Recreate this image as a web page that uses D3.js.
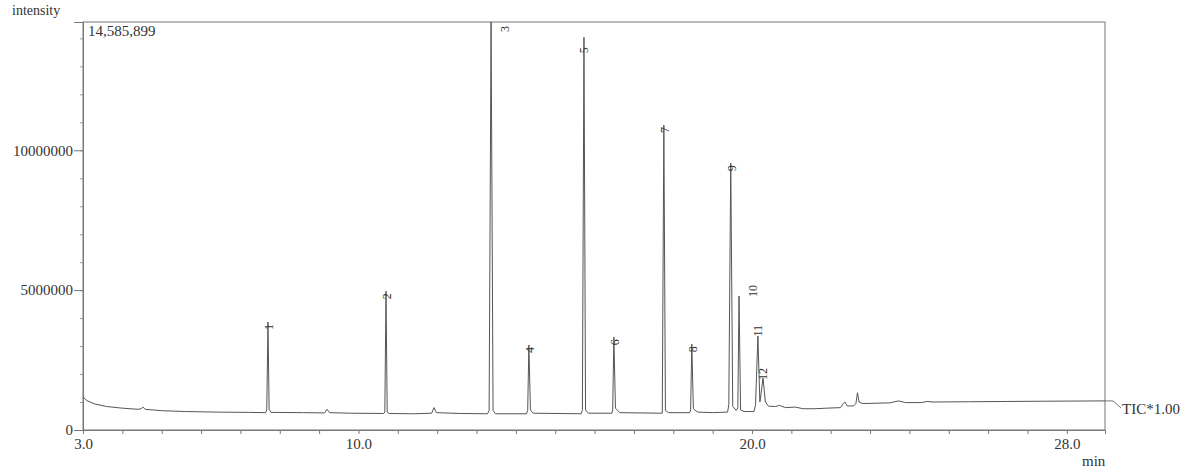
<!DOCTYPE html>
<html><head><meta charset="utf-8">
<script src="https://cdn.jsdelivr.net/npm/d3@7"></script>
<style>html,body{margin:0;padding:0;background:#fff}svg{display:block}</style>
</head><body>
<svg id="c" width="1194" height="473"></svg>
<script>
// ---- data ----
const traceTimes = [3.00,3.10,3.30,3.60,4.00,4.40,4.48,4.52,4.58,5.00,5.60,6.40,7.20,7.64,7.67,7.70,7.73,7.78,8.60,9.14,9.20,9.27,9.80,10.64,10.67,10.70,10.73,10.78,11.40,11.86,11.92,11.98,12.60,13.28,13.32,13.37,13.42,13.48,14.27,14.30,14.33,14.37,14.44,15.66,15.69,15.73,15.77,15.84,16.44,16.46,16.49,16.53,16.64,17.72,17.76,17.80,17.88,18.42,18.44,18.47,18.51,18.62,19.00,19.38,19.41,19.46,19.51,19.60,19.64,19.67,19.71,19.80,20.05,20.09,20.15,20.20,20.23,20.28,20.34,20.42,20.60,20.70,20.85,21.10,21.30,21.60,21.90,22.25,22.32,22.36,22.42,22.58,22.64,22.68,22.72,22.80,22.95,23.50,23.72,23.90,24.30,24.45,24.60,25.50,26.50,27.50,28.97];
const traceValues = [1.18,1.05,0.93,0.84,0.78,0.74,0.76,0.82,0.74,0.69,0.66,0.64,0.63,0.62,0.72,3.86,0.74,0.63,0.62,0.61,0.74,0.62,0.60,0.59,0.64,4.96,0.64,0.59,0.58,0.60,0.80,0.62,0.59,0.58,0.70,14.585899,0.70,0.58,0.58,0.70,3.04,0.72,0.60,0.58,0.72,14.04,0.72,0.60,0.60,0.72,3.32,0.78,0.62,0.60,10.90,0.70,0.62,0.62,0.72,3.07,0.76,0.64,0.62,0.64,0.90,9.54,0.85,0.70,0.80,4.79,0.72,0.66,0.66,0.90,3.36,1.00,1.30,1.86,1.00,0.85,0.84,0.88,0.80,0.82,0.76,0.76,0.78,0.80,0.95,1.00,0.86,0.86,0.95,1.33,1.00,0.95,0.95,0.97,1.04,0.98,0.98,1.02,1.00,1.01,1.02,1.03,1.04].map(v => v * 1e6);
const peakLabels = ["1","2","3","4","5","6","7","8","9","10","11","12"];
const peakTimes = [7.70,10.70,13.37,14.33,15.73,16.49,17.76,18.47,19.46,19.67,20.15,20.28];
const peakHeights = [3.86,4.96,14.585899,3.04,14.04,3.32,10.90,3.07,9.54,4.79,3.36,1.86].map(v => v * 1e6);
const xTickLabels = [3, 10, 20, 28];
const yTickLabels = [0, 5000000, 10000000];
const maxIntensity = 14585899;

// ---- layout ----
const L = 83, R = 1105, T = 22, B = 430;
const svg = d3.select("#c");
const font = "'Liberation Serif', 'DejaVu Serif', serif";
const ink = "#333";
const x = d3.scaleLinear().domain([3, 28.97]).range([L, R]);
const y = d3.scaleLinear().domain([0, maxIntensity]).range([B, T]);

svg.append("defs").append("clipPath").attr("id","clip")
  .append("rect").attr("x",L).attr("y",T).attr("width",R-L).attr("height",B-T);

// frame
svg.append("rect").attr("x",L).attr("y",T).attr("width",R-L).attr("height",B-T)
  .attr("fill","none").attr("stroke","#777").attr("stroke-width",1);

// x axis
const xAxis = d3.axisBottom(x).tickValues(d3.range(3, 29, 1)).tickSize(4)
  .tickFormat(d => xTickLabels.includes(d) ? d.toFixed(1) : "");
const gx = svg.append("g").attr("transform",`translate(0,${B})`).call(xAxis);
gx.select(".domain").attr("stroke","#777");
gx.selectAll(".tick line").attr("stroke","#777");
gx.selectAll(".tick text").attr("font-family",font).attr("font-size",15).attr("fill",ink).attr("dy","0.8em");

// y axis
const yMinor = d3.axisLeft(y).tickValues(d3.range(1e6, 14.6e6, 1e6)).tickSize(3).tickFormat("");
const gm = svg.append("g").attr("transform",`translate(${L},0)`).call(yMinor);
gm.select(".domain").remove();
gm.selectAll(".tick line").attr("stroke","#999");
const yAxis = d3.axisLeft(y).tickValues(yTickLabels).tickSize(9).tickPadding(1).tickFormat(d3.format("d"));
const gy = svg.append("g").attr("transform",`translate(${L},0)`).call(yAxis);
gy.select(".domain").attr("stroke","#777");
gy.selectAll(".tick line").attr("stroke","#777");
gy.selectAll(".tick text").attr("font-family",font).attr("font-size",15).attr("fill",ink);

// trace
const pts = traceTimes.map((t,i) => [t, traceValues[i]]);
const line = d3.line().x(d => x(d[0])).y(d => y(d[1]));
svg.append("path").datum(pts).attr("d", line).attr("clip-path","url(#clip)")
  .attr("fill","none").attr("stroke","#555").attr("stroke-width",1);

// peak labels (rotated, reading bottom to top)
const labelShift = {"3":[14,4],"5":[0,10],"10":[14,-11],"11":[0,-11],"12":[0,-10]};
peakLabels.forEach((lab,i) => {
  const s = labelShift[lab] || [1,2];
  const px = x(peakTimes[i]) + s[0], py = Math.max(y(peakHeights[i]), T) + s[1];
  svg.append("text").attr("transform",`translate(${px},${py}) rotate(-90)`)
    .attr("text-anchor","end").attr("dy","0.35em")
    .attr("font-family",font).attr("font-size",12).attr("fill",ink).text(lab);
});

// texts
svg.append("text").attr("x",12).attr("y",15).attr("font-family",font).attr("font-size",14).attr("fill",ink).text("intensity");
svg.append("text").attr("x",88).attr("y",36).attr("font-family",font).attr("font-size",15).attr("fill",ink).text(d3.format(",")(maxIntensity));
svg.append("text").attr("x",1082).attr("y",466).attr("font-family",font).attr("font-size",15).attr("fill",ink).text("min");

// TIC leader
const endT = traceTimes[traceTimes.length-1], endV = traceValues[traceValues.length-1];
const ex = x(endT), ey = y(endV);
svg.append("path").attr("d",`M${ex},${ey} L${ex+8},${ey} L${ex+16},${ey+7}`)
  .attr("fill","none").attr("stroke","#777");
svg.append("text").attr("x",ex+17).attr("y",ey+13).attr("font-family",font).attr("font-size",15).attr("fill",ink).text("TIC*1.00");
</script>
</body></html>
